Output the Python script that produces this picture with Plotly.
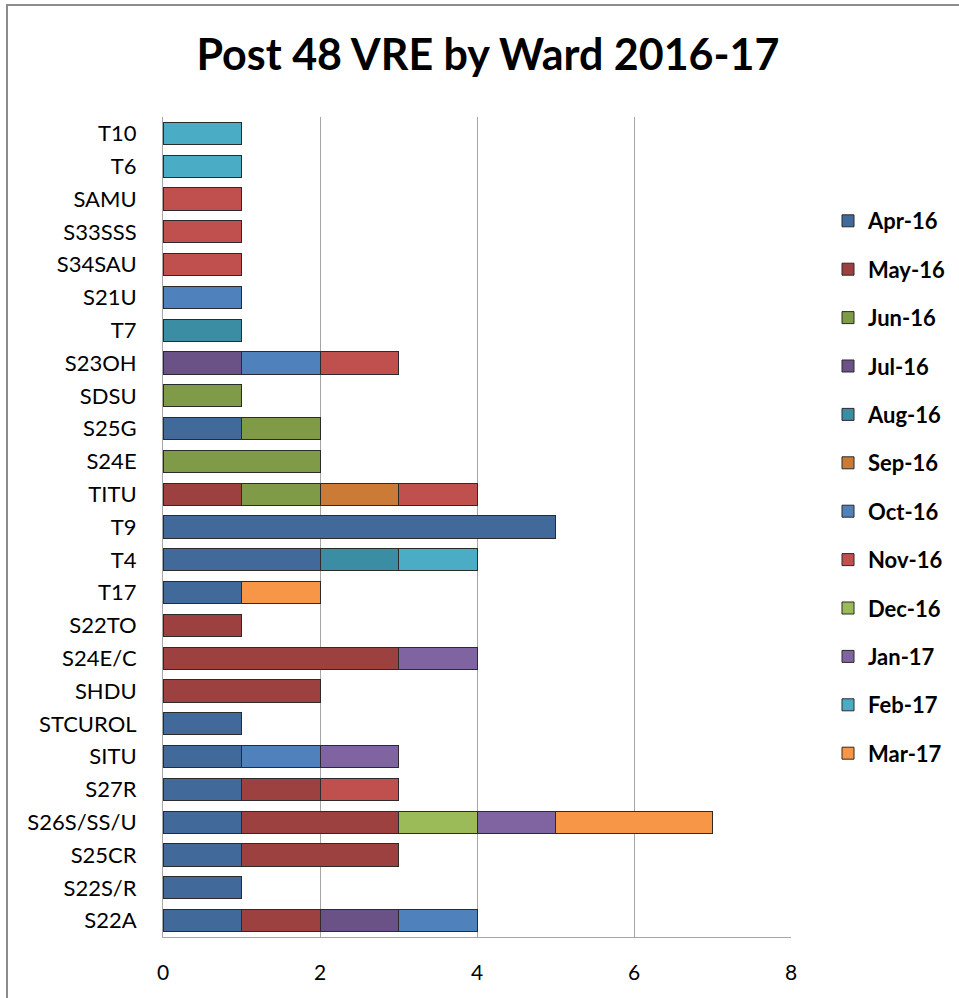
import plotly.graph_objects as go

# Wards, listed bottom to top on the category axis
wards = ["S22A", "S22S/R", "S25CR", "S26S/SS/U", "S27R", "SITU", "STCUROL", "SHDU",
         "S24E/C", "S22TO", "T17", "T4", "T9", "TITU", "S24E", "S25G", "SDSU",
         "S23OH", "T7", "S21U", "S34SAU", "S33SSS", "SAMU", "T6", "T10"]

months = ["Apr-16", "May-16", "Jun-16", "Jul-16", "Aug-16", "Sep-16",
          "Oct-16", "Nov-16", "Dec-16", "Jan-17", "Feb-17", "Mar-17"]

# Counts per ward for each month (None = no cases)
apr16 = [1, 1, 1, 1, 1, 1, 1, None, None, None, 1, 2, 5, None, None, 1, None, None, None, None, None, None, None, None, None]
may16 = [1, None, 2, 2, 1, None, None, 2, 3, 1, None, None, None, 1, None, None, None, None, None, None, None, None, None, None, None]
jun16 = [None, None, None, None, None, None, None, None, None, None, None, None, None, 1, 2, 1, 1, None, None, None, None, None, None, None, None]
jul16 = [1, None, None, None, None, None, None, None, None, None, None, None, None, None, None, None, None, 1, None, None, None, None, None, None, None]
aug16 = [None, None, None, None, None, None, None, None, None, None, None, 1, None, None, None, None, None, None, 1, None, None, None, None, None, None]
sep16 = [None, None, None, None, None, None, None, None, None, None, None, None, None, 1, None, None, None, None, None, None, None, None, None, None, None]
oct16 = [1, None, None, None, None, 1, None, None, None, None, None, None, None, None, None, None, None, 1, None, 1, None, None, None, None, None]
nov16 = [None, None, None, None, 1, None, None, None, None, None, None, None, None, 1, None, None, None, 1, None, None, 1, 1, 1, None, None]
dec16 = [None, None, None, 1, None, None, None, None, None, None, None, None, None, None, None, None, None, None, None, None, None, None, None, None, None]
jan17 = [None, None, None, 1, None, 1, None, None, 1, None, None, None, None, None, None, None, None, None, None, None, None, None, None, None, None]
feb17 = [None, None, None, None, None, None, None, None, None, None, None, 1, None, None, None, None, None, None, None, None, None, None, None, 1, 1]
mar17 = [None, None, None, 2, None, None, None, None, None, None, 1, None, None, None, None, None, None, None, None, None, None, None, None, None, None]

series = [apr16, may16, jun16, jul16, aug16, sep16, oct16, nov16, dec16, jan17, feb17, mar17]

colors = ["#41699A", "#9C4140", "#7F9B48", "#6A5286", "#3A8DA3", "#CC7B36",
          "#4F81BD", "#C0504D", "#9BBB59", "#8064A2", "#4BACC6", "#F79646"]

x_ticks = [0, 2, 4, 6, 8]

FONT = "Lato"

fig = go.Figure()
for name, vals, col in zip(months, series, colors):
    fig.add_trace(go.Bar(
        y=wards, x=vals, name=name, orientation="h",
        marker=dict(color=col, line=dict(color="#2B2B2B", width=1)),
        legendgroup=name,
    ))

W, H = 959, 998
L, R, T, B = 163, 168, 117, 61
pw, ph = W - L - R, H - T - B

def px_x(p):
    return (p - L) / pw

def px_y(p):
    return (H - B - p) / ph

fig.update_layout(
    width=W, height=H,
    margin=dict(l=L, r=R, t=T, b=B, autoexpand=False),
    paper_bgcolor="white", plot_bgcolor="white",
    barmode="stack", bargap=0.32,
    title=dict(text="<b>Post 48 VRE by Ward 2016-17</b>",
               x=px_x(488), xanchor="center", xref="paper",
               y=1 - 55 / H, yanchor="middle",
               font=dict(family=FONT, size=43, color="black")),
    font=dict(family=FONT, color="black"),
    xaxis=dict(range=[0, 8], tickvals=x_ticks, ticktext=[str(v) for v in x_ticks],
               showgrid=True, gridcolor="#A6A6A6", gridwidth=1,
               showline=True, linecolor="#A6A6A6", linewidth=1, mirror=False,
               zeroline=False, ticks="", ticklen=0,
               tickfont=dict(family=FONT, size=21, color="black")),
    yaxis=dict(categoryorder="array", categoryarray=wards,
               showgrid=False, showline=True, linecolor="#A6A6A6", linewidth=1,
               ticks="", tickfont=dict(family=FONT, size=22, color="black"),
               range=[-0.5, len(wards) - 0.5]),
    legend=dict(x=px_x(828), y=px_y(200), xanchor="left", yanchor="top",
                traceorder="grouped", tracegroupgap=16.8,
                font=dict(family=FONT, size=22, color="black", weight="bold"),
                itemwidth=30, bgcolor="rgba(0,0,0,0)"),
    showlegend=True,
)

# Chart frame edges along the left and top of the canvas
fig.add_shape(type="line", xref="paper", yref="paper",
              x0=px_x(7), x1=px_x(7), y0=px_y(5), y1=px_y(H + 5),
              line=dict(color="#8C8C8C", width=2))
fig.add_shape(type="line", xref="paper", yref="paper",
              x0=px_x(6), x1=px_x(W + 5), y0=px_y(5), y1=px_y(5),
              line=dict(color="#8C8C8C", width=2))

fig.update_xaxes(ticklabelstandoff=17)
fig.update_yaxes(ticklabelstandoff=21)

fig.write_html("out.html")
